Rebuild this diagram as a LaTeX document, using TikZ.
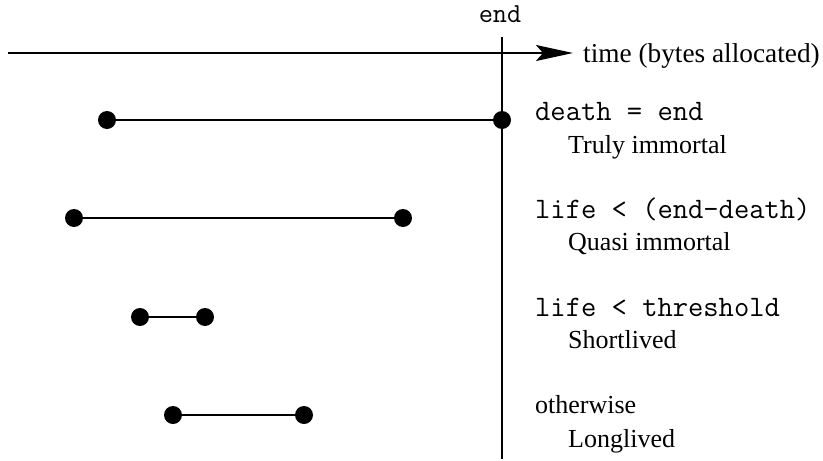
\documentclass[tikz,border=0pt]{standalone}
\usepackage{fontspec}
\setmainfont{Liberation Serif}
\usetikzlibrary{arrows.meta}
\begin{document}
\begin{tikzpicture}[x=1pt,y=-1pt,
  dot/.style={circle,fill=black,inner sep=0pt,minimum size=18pt},
  seg/.style={line width=1.5pt},
  axis/.style={line width=1.8pt},
  lbl/.style={anchor=base west,inner sep=0pt,font=\fontsize{26}{30}\selectfont},
  mlbl/.style={anchor=base west,inner sep=0pt,font=\fontsize{29.7}{34}\selectfont\ttfamily}]
\useasboundingbox (0,0) rectangle (823,461);
% axis
\coordinate (a0) at (8,53);
\coordinate (a1) at (573,53);
\draw[axis,-{Stealth[length=37pt,width=16pt,inset=7pt]}] (a0) -- (a1);
\node[lbl,font=\fontsize{27.3}{31}\selectfont] (time) at (583,62) {time (bytes allocated)};
% end line
\coordinate (e0) at (502,37);
\coordinate (e1) at (502,459);
\draw[axis] (e0) -- (e1);
\node[anchor=base,inner sep=0pt,font=\fontsize{27.5}{32}\selectfont\ttfamily] (endl) at (500,22) {end};
% lifetimes
\node[dot] (d1a) at (107,120) {};
\node[dot] (d1b) at (502,120) {};
\draw[seg] (d1a) -- (d1b);
\node[dot] (d2a) at (74,218) {};
\node[dot] (d2b) at (403,218) {};
\draw[seg] (d2a) -- (d2b);
\node[dot] (d3a) at (140,317) {};
\node[dot] (d3b) at (205,317) {};
\draw[seg] (d3a) -- (d3b);
\node[dot] (d4a) at (173,415) {};
\node[dot] (d4b) at (304,415) {};
\draw[seg] (d4a) -- (d4b);
% labels
\node[mlbl] (c1) at (535,120) {death = end};
\node[lbl] (t1) at (568,153) {Truly immortal};
\node[mlbl] (c2) at (535,218) {life < (end-death)};
\node[lbl] (t2) at (568,250) {Quasi immortal};
\node[mlbl] (c3) at (535,316) {life < threshold};
\node[lbl] (t3) at (568,348) {Shortlived};
\node[lbl] (c4) at (535,413) {otherwise};
\node[lbl] (t4) at (568,447) {Longlived};
\end{tikzpicture}
\end{document}
